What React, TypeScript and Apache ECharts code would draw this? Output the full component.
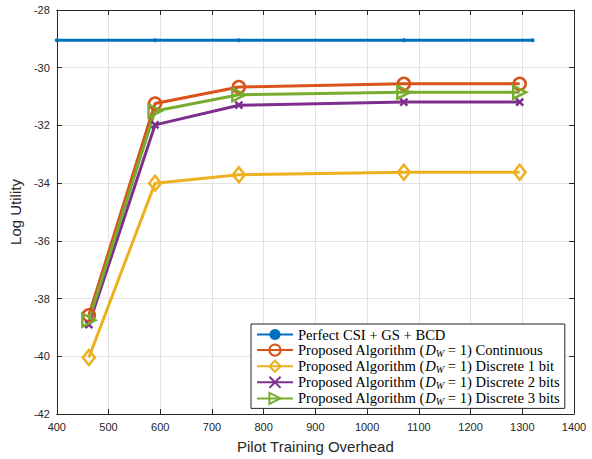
import React, { useEffect, useRef } from "react";
import * as echarts from "echarts";

const perfectX = [400, 590, 752, 1071, 1320];
const perfectY = [-29.05, -29.05, -29.05, -29.05, -29.05];
const proposedX = [462, 590, 752, 1071, 1295];
const continuousY = [-38.58, -31.24, -30.67, -30.56, -30.56];
const discrete1Y = [-40.04, -34.0, -33.71, -33.62, -33.62];
const discrete2Y = [-38.9, -31.98, -31.3, -31.19, -31.19];
const discrete3Y = [-38.75, -31.5, -30.94, -30.85, -30.85];
const xTicks = { min: 400, max: 1400, interval: 100 };
const yTicks = { min: -42, max: -28, interval: 2 };

const names = [
  "Perfect CSI + GS + BCD",
  "Proposed Algorithm (D_W = 1) Continuous",
  "Proposed Algorithm (D_W = 1) Discrete 1 bit",
  "Proposed Algorithm (D_W = 1) Discrete 2 bits",
  "Proposed Algorithm (D_W = 1) Discrete 3 bits",
];

const pairs = (xs: number[], ys: number[]) => xs.map((x, i) => [x, ys[i]]);

export default function App() {
  const ref = useRef<HTMLDivElement>(null);
  useEffect(() => {
    if (!ref.current) return;
    const chart = echarts.init(ref.current, undefined, { renderer: "svg" });
    const axisColor = "#262626";
    const gridColor = "#e3e3e3";
    const lw = 3;
    const serif = "'Liberation Serif', 'DejaVu Serif', serif";
    const fs = 14.6;
    const mk = (name: string, color: string, data: number[][], symbol: string, size: any, extra: any = {}) => ({
      name,
      type: "line",
      data,
      symbol,
      symbolSize: size,
      showSymbol: true,
      lineStyle: { color, width: lw },
      itemStyle: { color: "rgba(255,255,255,0)", borderColor: color, borderWidth: 2.5 },
      emphasis: { disabled: true },
      z: 3,
      ...extra,
    });
    chart.setOption({
      animation: false,
      backgroundColor: "#ffffff",
      grid: { left: 55, top: 10, width: 519, height: 409, containLabel: false },
      xAxis: [
        {
          type: "value",
          ...xTicks,
          name: "Pilot Training Overhead",
          nameLocation: "middle",
          nameGap: 25,
          nameTextStyle: { fontFamily: "Liberation Sans", fontSize: 15, color: axisColor },
          axisLine: { onZero: false, lineStyle: { color: axisColor, width: 1 } },
          axisTick: { inside: true, length: 5, lineStyle: { color: axisColor } },
          axisLabel: { fontFamily: "Liberation Sans", fontSize: 11, color: axisColor, margin: 7, formatter: (v: number) => String(v) },
          splitLine: { show: true, lineStyle: { color: gridColor, width: 1 } },
        },
        {
          type: "value",
          position: "top",
          ...xTicks,
          axisLine: { onZero: false, lineStyle: { color: axisColor, width: 1 } },
          axisTick: { inside: true, length: 5, lineStyle: { color: axisColor } },
          axisLabel: { show: false },
          splitLine: { show: false },
        },
      ],
      yAxis: [
        {
          type: "value",
          ...yTicks,
          name: "Log Utility",
          nameLocation: "middle",
          nameGap: 25,
          nameTextStyle: { fontFamily: "Liberation Sans", fontSize: 15, color: axisColor },
          axisLine: { show: true, onZero: false, lineStyle: { color: axisColor, width: 1 } },
          axisTick: { show: true, inside: true, length: 5, lineStyle: { color: axisColor } },
          axisLabel: { fontFamily: "Liberation Sans", fontSize: 11, color: axisColor, margin: 7 },
          splitLine: { show: true, lineStyle: { color: gridColor, width: 1 } },
        },
        {
          type: "value",
          position: "right",
          ...yTicks,
          axisLine: { show: true, onZero: false, lineStyle: { color: axisColor, width: 1 } },
          axisTick: { show: true, inside: true, length: 5, lineStyle: { color: axisColor } },
          axisLabel: { show: false },
          splitLine: { show: false },
        },
      ],
      legend: {
        orient: "vertical",
        left: 251,
        top: 324,
        padding: [3, 5, 2, 5],
        itemWidth: 36,
        itemHeight: 14,
        itemGap: 0.1,
        backgroundColor: "#ffffff",
        borderColor: axisColor,
        borderWidth: 1,
        borderRadius: 0,
        data: names,
        textStyle: {
          fontFamily: serif,
          fontSize: fs,
          color: "#000",
          lineHeight: 14,
          rich: {
            r: { fontFamily: serif, fontSize: fs, color: "#000", lineHeight: 14 },
            i: { fontFamily: serif, fontSize: fs, fontStyle: "italic", color: "#000", lineHeight: 14 },
            s: { fontFamily: serif, fontSize: 10, fontStyle: "italic", color: "#000", lineHeight: 8, padding: [6, 0, 0, 0] },
          },
        },
        formatter: (n: string) => {
          const parts = n.split("D_W");
          if (parts.length < 2) return `{r|${n}}`;
          return `{r|${parts[0]}}{i|D}{s|W}{r|${parts[1]}}`;
        },
      },
      series: [
        {
          name: names[0],
          type: "line",
          data: pairs(perfectX, perfectY),
          symbol: "circle",
          symbolSize: 4,
          lineStyle: { color: "#0072BD", width: lw },
          itemStyle: { color: "#0072BD" },
          emphasis: { disabled: true },
          z: 3,
        },
        mk(names[1], "#D95319", pairs(proposedX, continuousY), "circle", 12),
        mk(names[2], "#EDB120", pairs(proposedX, discrete1Y), "diamond", [12, 15]),
        mk(names[3], "#7E2F8E", pairs(proposedX, discrete2Y), "path://M0,0L10,10M10,0L0,10", 7),
        mk(names[4], "#77AC30", pairs(proposedX, discrete3Y), "triangle", 13, { symbolRotate: -90 }),
      ],
    });
    return () => chart.dispose();
  }, []);
  return <div ref={ref} style={{ position: "fixed", left: 0, top: 0, width: 592, height: 459 }} />;
}
